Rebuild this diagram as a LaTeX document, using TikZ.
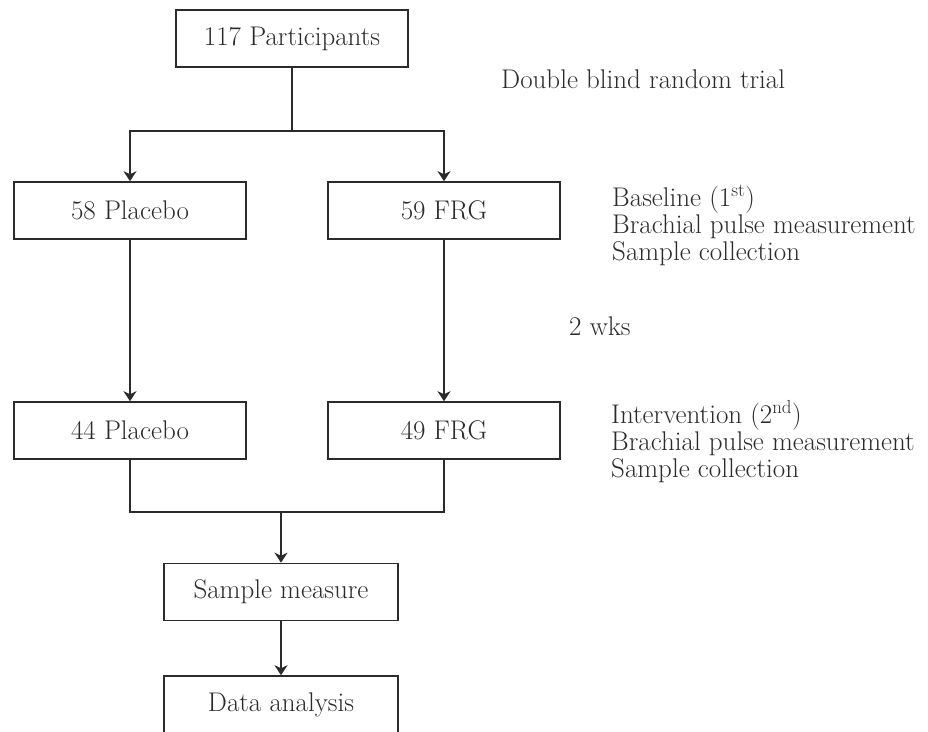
\documentclass[tikz,border=0pt]{standalone}
\usetikzlibrary{arrows.meta}
\definecolor{ink}{HTML}{2B2B2B}
\begin{document}
\begin{tikzpicture}[x=1pt, y=-1pt,
    box/.style={draw=ink, line width=1.6pt, minimum width=232pt, minimum height=57pt,
        inner sep=0pt, text=ink, font=\fontsize{27}{29}\selectfont},
    link/.style={draw=ink, line width=1.6pt},
    arr/.style={link, -{Stealth[length=10pt, width=13pt, inset=3pt]}},
    note/.style={anchor=base west, inner sep=0pt, text=ink, font=\fontsize{27}{29}\selectfont}]
    \useasboundingbox (0,0) rectangle (928,731);
    % flow boxes
    \node[box] (part) at (292, 38.5) {117 Participants};
    \node[box] (plac1) at (130, 210.5) {58 Placebo};
    \node[box] (frg1) at (444, 210.5) {59 FRG};
    \node[box] (plac2) at (130, 430.5) {44 Placebo};
    \node[box] (frg2) at (444, 430.5) {49 FRG};
    \node[box, minimum width=234pt] (meas) at (281, 592) {Sample measure};
    \node[box, minimum width=234pt] (data) at (281, 704.5) {Data analysis};
    \coordinate (split) at (292, 131);
    \coordinate (merge) at (281, 512);
    % connectors
    \draw[link] (part) -- (split);
    \draw[arr] (split) -| (plac1);
    \draw[arr] (split) -| (frg1);
    \draw[arr] (plac1) -- (plac2);
    \draw[arr] (frg1) -- (frg2);
    \draw[link] (plac2) |- (merge);
    \draw[link] (frg2) |- (merge);
    \draw[arr] (merge) -- (meas);
    \draw[arr] (meas) -- (data);
    % notes on the right
    \node[note] (trial) at (501, 88) {Double blind random trial};
    \node[note] (wks) at (569, 335) {2 wks};
    \foreach \t [count=\i] in {Baseline (1\textsuperscript{st}), Brachial pulse measurement, Sample collection}
        \node[note] (first\i) at (612, 179+27*\i) {\t};
    \foreach \t [count=\i] in {Intervention (2\textsuperscript{nd}), Brachial pulse measurement, Sample collection}
        \node[note] (second\i) at (611, 396+27*\i) {\t};
\end{tikzpicture}
\end{document}
